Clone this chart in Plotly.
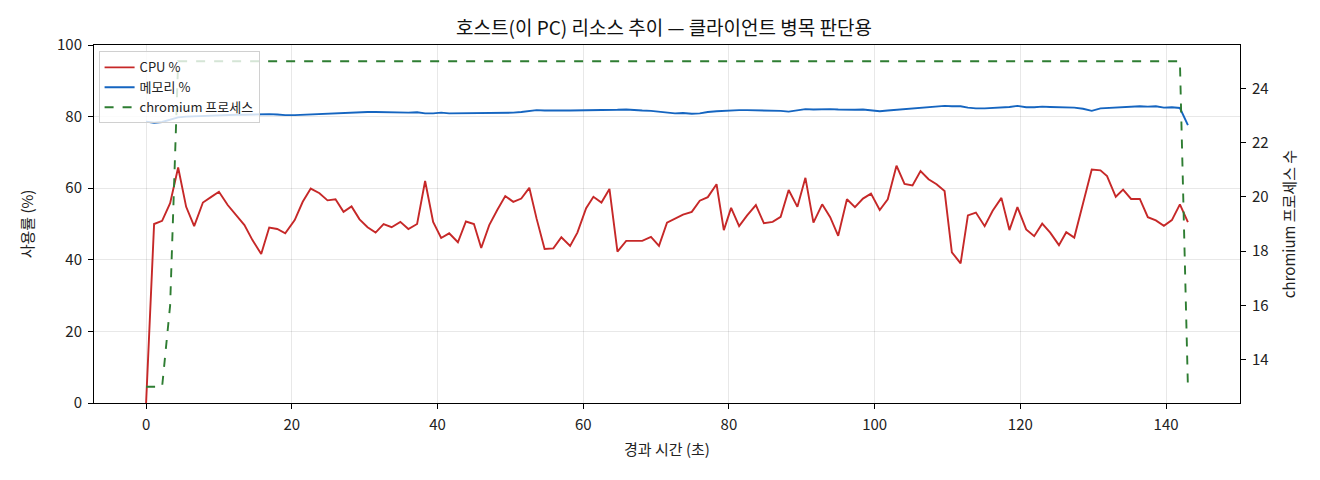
import plotly.graph_objects as go

# 경과 시간 (초)
t = [0.0, 1.1, 2.2, 3.3, 4.4, 5.5, 6.6, 7.8, 8.9, 10.0, 11.2, 12.4, 13.5, 14.6, 15.8, 16.9, 18.0, 19.1,
     20.4, 21.5, 22.6, 23.8, 24.9, 26.0, 27.1, 28.2, 29.3, 30.4, 31.5, 32.6, 33.7, 34.9, 36.0, 37.2,
     38.3, 39.4, 40.5, 41.6, 42.8, 43.9, 45.0, 46.0, 47.1, 48.2, 49.3, 50.4, 51.5, 52.6, 53.6, 54.7,
     55.9, 57.0, 58.2, 59.2, 60.4, 61.4, 62.5, 63.6, 64.7, 65.9, 67.0, 68.1, 69.3, 70.4, 71.5, 72.6,
     73.7, 74.9, 76.0, 77.1, 78.3, 79.3, 80.3, 81.4, 82.5, 83.7, 84.8, 86.0, 87.1, 88.2, 89.4, 90.5,
     91.6, 92.8, 93.9, 95.0, 96.2, 97.3, 98.4, 99.5, 100.7, 101.8, 103.0, 104.1, 105.2, 106.3, 107.4,
     108.5, 109.6, 110.6, 111.8, 112.8, 113.9, 115.1, 116.2, 117.4, 118.5, 119.6, 120.8, 121.9, 123.0,
     124.1, 125.3, 126.3, 127.4, 128.6, 129.8, 131.0, 131.9, 133.1, 134.1, 135.2, 136.4, 137.5, 138.6,
     139.7, 140.8, 141.9, 143.0]

cpu = [0.0, 50.0, 50.9, 55.8, 65.8, 54.8, 49.4, 56.0, 57.5, 59.0, 55.3, 52.5, 49.7, 45.5, 41.6, 49.0, 48.6, 47.4,
       51.1, 56.2, 59.9, 58.6, 56.6, 56.9, 53.4, 54.9, 51.3, 49.1, 47.6, 50.0, 49.1, 50.6, 48.6, 50.0,
       62.0, 50.6, 46.1, 47.4, 44.9, 50.7, 50.0, 43.3, 49.7, 53.9, 57.8, 56.2, 57.1, 60.1, 51.5, 43.0,
       43.2, 46.3, 43.9, 47.6, 54.4, 57.6, 56.0, 59.8, 42.3, 45.3, 45.4, 45.3, 46.4, 43.9, 50.4, 51.6,
       52.6, 53.4, 56.5, 57.5, 61.1, 48.3, 54.5, 49.4, 52.4, 55.3, 50.2, 50.6, 52.0, 59.5, 54.8, 62.9,
       50.4, 55.5, 51.9, 46.7, 56.9, 54.7, 57.1, 58.5, 53.9, 56.9, 66.3, 61.2, 60.8, 64.8, 62.5,
       61.1, 59.2, 42.1, 39.0, 52.4, 53.2, 49.4, 53.7, 57.3, 48.3, 54.7, 48.5, 46.6, 50.1,
       47.6, 44.1, 47.7, 46.2, 55.7, 65.2, 65.0, 63.4, 57.6, 59.6, 57.0, 57.0, 51.9, 51.0,
       49.5, 51.1, 55.5, 50.5]

mem = [78.6, 78.3, 78.5, 79.2, 79.8, 80.0, 80.1, 80.2, 80.3, 80.3, 80.4, 80.5, 80.5, 80.6, 80.6, 80.7, 80.6, 80.4,
       80.4, 80.5, 80.6, 80.7, 80.8, 81.0, 81.1, 81.3, 81.4, 81.3, 81.3, 81.2, 81.2, 81.2, 81.1, 81.2,
       80.9, 80.9, 81.1, 80.9, 80.9, 81.0, 81.1, 81.0, 80.9, 80.9, 80.9, 81.1, 81.3, 81.6, 81.8, 81.7,
       81.6, 81.7, 81.7, 81.7, 81.8, 81.7, 81.8, 81.7, 81.9, 82.0, 81.8, 81.7, 81.6, 81.4, 81.2, 80.9,
       81.0, 80.8, 80.9, 81.3, 81.5, 81.6, 81.8, 81.8, 81.8, 81.8, 81.8, 81.7, 81.6, 81.4, 81.7, 82.1,
       82.0, 82.1, 82.1, 82.0, 81.9, 81.9, 82.0, 81.7, 81.5, 81.7, 81.9, 82.0, 82.1, 82.3, 82.6,
       82.8, 83.0, 82.9, 82.9, 82.5, 82.3, 82.3, 82.4, 82.5, 82.7, 83.0, 82.6, 82.6, 82.8,
       82.7, 82.7, 82.6, 82.5, 82.2, 81.6, 82.3, 82.4, 82.5, 82.6, 82.8, 82.9, 82.8, 82.9,
       82.5, 82.6, 82.4, 77.6]

chromium = [13, 13, 13, 16] + [25] * 124 + [13]

font = "Noto Sans CJK KR"

fig = go.Figure()
fig.add_trace(go.Scatter(x=t, y=cpu, mode="lines", name="CPU %",
                         line=dict(color="#c62828", width=1.9)))
fig.add_trace(go.Scatter(x=t, y=mem, mode="lines", name="메모리 %",
                         line=dict(color="#1565c0", width=1.9)))
fig.add_trace(go.Scatter(x=t, y=chromium, mode="lines", name="chromium 프로세스",
                         line=dict(color="#2e7d32", width=1.9, dash="dash"), yaxis="y2"))

axis_common = dict(showline=True, linecolor="black", linewidth=1, ticks="outside",
                   ticklen=5, tickcolor="black", zeroline=False, automargin=False,
                   ticklabelstandoff=3, tickfont=dict(size=15, color="#222"))

# page body has an 8px margin, so the figure is a bit smaller than the window
W, H = 1312, 472

fig.update_layout(
    width=W, height=H,
    margin=dict(l=86, r=80, t=37, b=77),
    plot_bgcolor="white", paper_bgcolor="white",
    font=dict(family=font, size=15, color="#222"),
    title=dict(text="호스트(이 PC) 리소스 추이 — 클라이언트 병목 판단용",
               x=0.5, xanchor="center", y=1 - 20 / H, yanchor="middle",
               yref="container", automargin=False,
               font=dict(size=19, color="#111")),
    xaxis=dict(range=[-7.15, 150.15], tickvals=[0, 20, 40, 60, 80, 100, 120, 140],
               title=dict(text="경과 시간 (초)", font=dict(size=15), standoff=11),
               showgrid=True, gridcolor="rgba(0,0,0,0.09)", mirror=True, **axis_common),
    yaxis=dict(range=[0, 100], tickvals=[0, 20, 40, 60, 80, 100],
               title=dict(text="사용률 (%)", font=dict(size=15), standoff=19),
               showgrid=True, gridcolor="rgba(0,0,0,0.09)", mirror=True, **axis_common),
    yaxis2=dict(range=[12.4, 25.6], tickvals=[14, 16, 18, 20, 22, 24],
                overlaying="y", side="right", showgrid=False,
                title=dict(text="chromium 프로세스 수", font=dict(size=15), standoff=16),
                **axis_common),
    legend=dict(x=0.004, y=0.982, xanchor="left", yanchor="top",
                bgcolor="rgba(255,255,255,0.8)", bordercolor="#d0d0d0", borderwidth=1,
                font=dict(size=13, color="#222"), tracegroupgap=0, itemwidth=30),
    showlegend=True,
)

fig.write_html("out.html")
